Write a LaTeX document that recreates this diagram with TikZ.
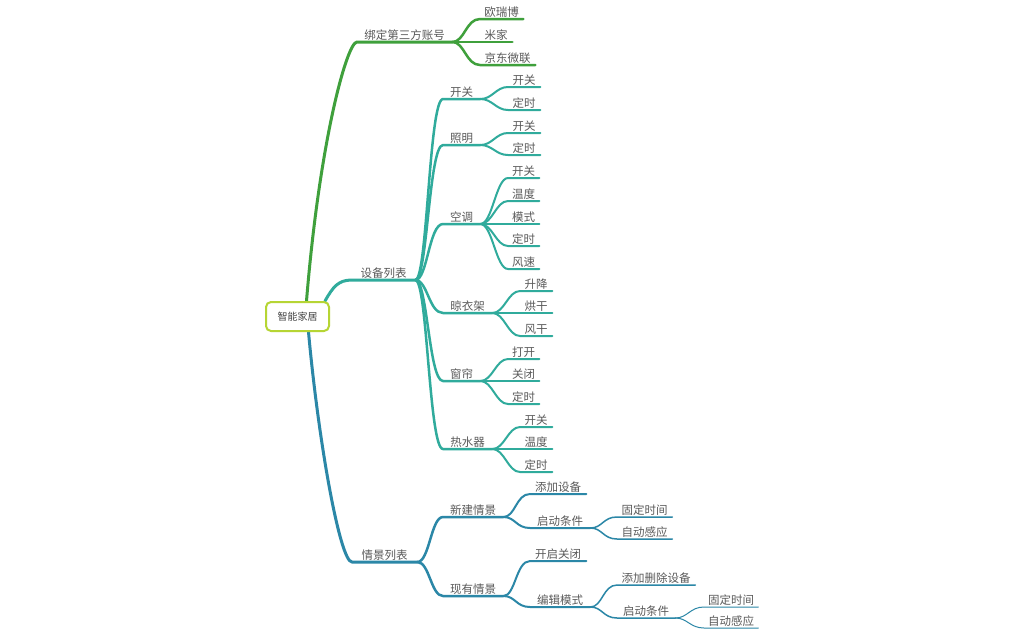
\documentclass[tikz,border=0pt]{standalone}
\usepackage{fontspec}
\usetikzlibrary{backgrounds}
\newfontfamily\cjk{Noto Sans CJK SC}
\definecolor{cgreen}{HTML}{3FA03C}
\definecolor{cteal}{HTML}{30AB9C}
\definecolor{cblue}{HTML}{2B87A7}
\definecolor{rootline}{HTML}{B6D534}
\definecolor{txt}{HTML}{5A5A5A}
\tikzset{
  tp/.style={anchor=south west, inner xsep=0pt, inner ysep=0.5pt,
    text height=9pt, text depth=1.5pt, align=center, text=txt,
    font=\cjk\fontsize{11.5}{13}\selectfont},
  lv1/.style={line width=3pt, line cap=round, line join=round},
  lv2/.style={line width=2.5pt, line cap=round, line join=round},
  lv3/.style={line width=2pt, line cap=round, line join=round},
  lv4/.style={line width=1.5pt, line cap=round, line join=round},
  lv5/.style={line width=1pt, line cap=round, line join=round},
  rootbox/.style={draw=rootline, line width=2pt, fill=white, rounded corners=5pt,
    minimum width=63pt, minimum height=29pt, inner sep=0pt, text=black!75,
    font=\cjk\fontsize{10}{12}\selectfont}
}
\begin{document}
\begin{tikzpicture}[x=1pt, y=-1pt]
\useasboundingbox (0,0) rectangle (1024,633);

% central topic
\node[rootbox] (root) at (297.5,316.5) {智能家居};

% ---- topic labels (each sits on its own underline) ----
% account binding
\node[tp, minimum width=95pt] (bd) at (357,42) {绑定第三方账号};
\node[tp, minimum width=43pt] (ob) at (480,19) {欧瑞博};
\node[tp, minimum width=32pt] (mj) at (480,42) {米家};
\node[tp, minimum width=55pt] (jd) at (480,65) {京东微联};

% device list
\node[tp, minimum width=63pt] (sb) at (352,280) {设备列表};
\node[tp, minimum width=37pt] (k1) at (443,99) {开关};
\node[tp, minimum width=32pt] (k1a) at (508,87) {开关};
\node[tp, minimum width=32pt] (k1b) at (508,110) {定时};
\node[tp, minimum width=37pt] (zm) at (443,145) {照明};
\node[tp, minimum width=32pt] (zma) at (508,133) {开关};
\node[tp, minimum width=32pt] (zmb) at (508,155) {定时};
\node[tp, minimum width=37pt] (kt) at (443,224) {空调};
\node[tp, minimum width=31pt] (kta) at (508,178) {开关};
\node[tp, minimum width=31pt] (ktb) at (508,201) {温度};
\node[tp, minimum width=31pt] (ktc) at (508,224) {模式};
\node[tp, minimum width=31pt] (ktd) at (508,246) {定时};
\node[tp, minimum width=31pt] (kte) at (508,269) {风速};
\node[tp, minimum width=49pt] (ly) at (443,313) {晾衣架};
\node[tp, minimum width=32pt] (lya) at (520,291) {升降};
\node[tp, minimum width=32pt] (lyb) at (520,313) {烘干};
\node[tp, minimum width=32pt] (lyc) at (520,336) {风干};
\node[tp, minimum width=37pt] (cl) at (443,381) {窗帘};
\node[tp, minimum width=31pt] (cla) at (508,359) {打开};
\node[tp, minimum width=31pt] (clb) at (508,381) {关闭};
\node[tp, minimum width=31pt] (clc) at (508,404) {定时};
\node[tp, minimum width=49pt] (rs) at (443,449) {热水器};
\node[tp, minimum width=32pt] (rsa) at (520,427) {开关};
\node[tp, minimum width=32pt] (rsb) at (520,449) {温度};
\node[tp, minimum width=32pt] (rsc) at (520,472) {定时};

% scene list
\node[tp, minimum width=65pt] (qj) at (352,562) {情景列表};
\node[tp, minimum width=60pt] (xj) at (443,517) {新建情景};
\node[tp, minimum width=56pt] (tj) at (530,494) {添加设备};
\node[tp, minimum width=60pt] (qd) at (530,528) {启动条件};
\node[tp, minimum width=55pt] (gd) at (617,517) {固定时间};
\node[tp, minimum width=55pt] (zd) at (617,539) {自动感应};
\node[tp, minimum width=60pt] (xy) at (443,596) {现有情景};
\node[tp, minimum width=56pt] (kq) at (530,561) {开启关闭};
\node[tp, minimum width=60pt] (bj) at (530,607) {编辑模式};
\node[tp, minimum width=78pt] (ts) at (617,585) {添加删除设备};
\node[tp, minimum width=58pt] (qd2) at (617,618) {启动条件};
\node[tp, minimum width=54pt] (gd2) at (704,607) {固定时间};
\node[tp, minimum width=54pt] (zd2) at (704,628) {自动感应};

% ---- connectors: curve into each child, then run along its underline ----
\begin{pgfonlayer}{background}
\fill[white] (0,0) rectangle (1024,633);
% green branch
\draw[lv1, cgreen] ([xshift=9pt]root.north) .. controls +(13,-160) and +(-10,0) .. (bd.south west) -- (bd.south east);
\foreach \c in {ob,mj,jd}
  \draw[lv2, cgreen] (bd.south east) .. controls +(12,0) and +(-14,0) .. (\c.south west) -- (\c.south east);

% teal branch
\draw[lv1, cteal] ([xshift=-5pt]root.north east) .. controls +(8,-14) and +(-14,0) .. (sb.south west) -- (sb.south east);
\foreach \c in {k1,zm,kt,ly,cl,rs}
  \draw[lv2, cteal] (sb.south east) .. controls +(12,0) and +(-14,0) .. (\c.south west) -- (\c.south east);
\foreach \p/\c in {k1/k1a,k1/k1b,zm/zma,zm/zmb,kt/kta,kt/ktb,kt/ktc,kt/ktd,kt/kte,
                   ly/lya,ly/lyb,ly/lyc,cl/cla,cl/clb,cl/clc,rs/rsa,rs/rsb,rs/rsc}
  \draw[lv3, cteal] (\p.south east) .. controls +(12,0) and +(-12,0) .. (\c.south west) -- (\c.south east);

% blue branch
\draw[lv1, cblue] ([xshift=11pt]root.south) .. controls +(10,110) and +(-12,0) .. (qj.south west) -- (qj.south east);
\foreach \c in {xj,xy}
  \draw[lv2, cblue] (qj.south east) .. controls +(12,0) and +(-12,0) .. (\c.south west) -- (\c.south east);
\foreach \p/\c in {xj/tj,xj/qd,xy/kq,xy/bj}
  \draw[lv3, cblue] (\p.south east) .. controls +(12,0) and +(-14,0) .. (\c.south west) -- (\c.south east);
\foreach \p/\c in {qd/gd,qd/zd,bj/ts,bj/qd2}
  \draw[lv4, cblue] (\p.south east) .. controls +(12,0) and +(-14,0) .. (\c.south west) -- (\c.south east);
\foreach \p/\c in {qd2/gd2,qd2/zd2}
  \draw[lv5, cblue] (\p.south east) .. controls +(12,0) and +(-14,0) .. (\c.south west) -- (\c.south east);
\end{pgfonlayer}
\end{tikzpicture}
\end{document}
